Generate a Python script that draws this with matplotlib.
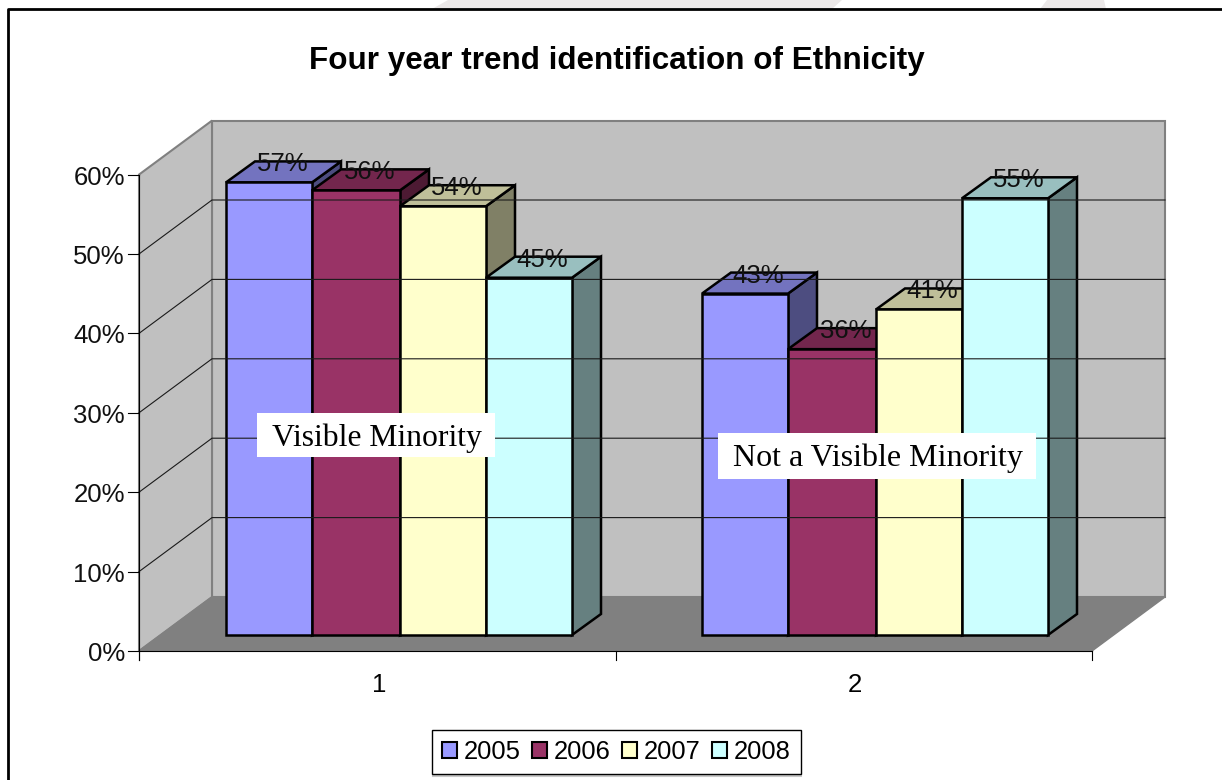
import numpy as np
from matplotlib import pyplot as plt
from matplotlib.patches import Polygon, Rectangle

title = "Four year trend identification of Ethnicity"
years = ["2005", "2006", "2007", "2008"]
groups = ["1", "2"]
group_names = ["Visible Minority", "Not a Visible Minority"]
y_ticks = [0, 10, 20, 30, 40, 50, 60]

visible = [57, 56, 54, 45]
not_visible = [43, 36, 41, 55]

front_colors = ["#9999FF", "#993366", "#FFFFCC", "#CCFFFF"]
top_colors = ["#7373BF", "#73264D", "#BFBF99", "#99BFBF"]
side_colors = ["#4D4D80", "#4D1A33", "#808066", "#668080"]

plt.rcParams['font.family'] = ['Liberation Sans', 'DejaVu Sans']

fig = plt.figure(figsize=(12.22, 7.8), dpi=100)
ax = fig.add_axes([0, 0, 1, 1])
# axes run in reference pixels, y pointing down
ax.set_xlim(0, 1222)
ax.set_ylim(780, 0)
ax.axis("off")

# box geometry
x0, x1 = 139, 1092
y0 = 651
px_per_pct = 7.94
dx, dy = 73, -54
bar_dx, bar_dy = 29, -21
bar_base = 635
group_edges = [[226, 312, 400, 486, 572], [702, 788, 876, 962, 1048]]


def fy(v):
    return y0 - v * px_per_pct


# faint watermark and the outer frame
ax.add_patch(Polygon([(448, 0), (842, 0), (832, 9), (432, 9)], fc="#EBE8E8", ec="none"))
ax.add_patch(Polygon([(1047, 0), (1104, 0), (1106, 9), (1040, 9)], fc="#EBE8E8", ec="none"))
ax.plot([8, 8, 1222], [780, 9, 9], color="black", lw=2)

# walls and floor
top = fy(60)
ax.add_patch(Polygon([(x0 + dx, top + dy), (x1 + dx, top + dy), (x1 + dx, y0 + dy), (x0 + dx, y0 + dy)],
                     fc="#C0C0C0", ec="#808080", lw=1.5))
ax.add_patch(Polygon([(x0, top), (x0 + dx, top + dy), (x0 + dx, y0 + dy), (x0, y0)],
                     fc="#C0C0C0", ec="#808080", lw=1.5))
ax.add_patch(Polygon([(x0, y0), (x1, y0), (x1 + dx, y0 + dy), (x0 + dx, y0 + dy)],
                     fc="#808080", ec="#808080", lw=1))

# gridlines and axes
for v in y_ticks[1:-1]:
    ax.plot([x0, x0 + dx, x1 + dx], [fy(v), fy(v) + dy, fy(v) + dy], color="#1A1A1A", lw=0.8)
ax.plot([x0, x0], [top, y0 + 9], color="black", lw=0.8)
ax.plot([x0, x1], [y0, y0], color="black", lw=0.8)
for v in y_ticks:
    ax.plot([x0 - 11, x0], [fy(v), fy(v)], color="black", lw=0.8)
    ax.text(x0 - 14, fy(v) + 3, f"{v}%", ha="right", va="center", fontsize=18.5, color="#111111")
for x in [x0, (x0 + x1) / 2, x1]:
    ax.plot([x, x], [y0, y0 + 9], color="black", lw=0.8)

# bars, left to right so each one covers the side of the previous
for values, edges in zip([visible, not_visible], group_edges):
    for i, v in enumerate(values):
        l, r = edges[i], edges[i + 1]
        t = bar_base - v * px_per_pct
        style = dict(ec="black", lw=1.8, joinstyle="miter")
        ax.add_patch(Polygon([(r, t), (r + bar_dx, t + bar_dy), (r + bar_dx, bar_base + bar_dy), (r, bar_base)],
                             fc=side_colors[i], **style))
        ax.add_patch(Polygon([(l, t), (l + bar_dx, t + bar_dy), (r + bar_dx, t + bar_dy), (r, t)],
                             fc=top_colors[i], **style))
        ax.add_patch(Rectangle((l, t), r - l, bar_base - t, fc=front_colors[i], **style))
    for i, v in enumerate(values):
        l, r = edges[i], edges[i + 1]
        t = bar_base - v * px_per_pct
        ax.text((l + r + bar_dx) / 2 - 1, t + bar_dy + 3, f"{v}%", ha="center", va="center", fontsize=18.5,
                color="#111111", zorder=5)

# group labels and category ticks
ax.text(379, 685, groups[0], ha="center", va="center", fontsize=18.5)
ax.text(855, 685, groups[1], ha="center", va="center", fontsize=18.5)
ax.text(377, 438, group_names[0], ha="center", va="center", family=["Liberation Serif"], fontsize=22.8, zorder=6)
ax.add_patch(Rectangle((257, 413), 238, 44, fc="white", ec="none", zorder=5.5))
ax.text(878, 458, group_names[1], ha="center", va="center", family=["Liberation Serif"], fontsize=23, zorder=6)
ax.add_patch(Rectangle((718, 433), 318, 46, fc="white", ec="none", zorder=5.5))

ax.text(617, 61, title, ha="center", va="center", fontsize=22.6, fontweight="bold")

# legend
handles = [Rectangle((0, 0), 1, 1, fc=c, ec="black", lw=1.5) for c in front_colors]
ax.plot([433, 801], [776, 776], color="#C8C8C8", lw=1.5)
leg = ax.legend(handles, years, ncol=4, loc="center", bbox_to_anchor=(616.5 / 1222, 1 - 752 / 780),
                fontsize=18.4, fancybox=False, framealpha=1, edgecolor="black",
                handlelength=0.58, handleheight=0.58, handletextpad=0.27, columnspacing=0.45,
                borderpad=0.38, borderaxespad=0)
leg.get_frame().set_linewidth(1)

fig.savefig("out.png", dpi=100)
